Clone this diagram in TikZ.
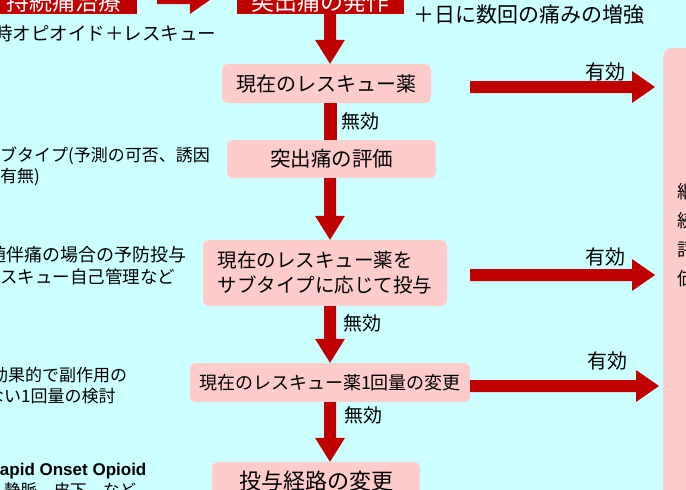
\documentclass[tikz,border=0pt]{standalone}
\usepackage{fontspec}
\setmainfont{Noto Sans CJK JP}
\newfontfamily\latinsans{Liberation Sans}
\usetikzlibrary{calc}

\definecolor{bgcyan}{RGB}{204,255,255}
\definecolor{boxpink}{RGB}{255,204,204}
\definecolor{flowred}{RGB}{192,0,0}

\tikzset{
  stepbox/.style={rectangle, rounded corners=6pt, fill=boxpink, inner sep=0pt, align=left},
  topbox/.style={rectangle, fill=flowred, text=white, inner sep=0pt, minimum height=24pt,
    font=\fontsize{23}{28}\selectfont},
  sidenote/.style={anchor=west, inner sep=0pt, align=left},
  branch/.style={inner sep=0pt, font=\fontsize{19}{22}\selectfont},
  rblock/.style={to path={let \p1=(\tikztostart), \p2=(\tikztotarget) in
    (\x1,\y1+6pt) -- (\x2-23pt,\y1+6pt) -- (\x2-23pt,\y1+16pt) -- (\x2,\y1)
    -- (\x2-23pt,\y1-16pt) -- (\x2-23pt,\y1-6pt) -- (\x1,\y1-6pt) -- cycle}},
  dblock/.style={to path={let \p1=(\tikztostart), \p2=(\tikztotarget) in
    (\x1-6pt,\y1) -- (\x1-6pt,\y2+24pt) -- (\x1-15pt,\y2+24pt) -- (\x1,\y2)
    -- (\x1+15pt,\y2+24pt) -- (\x1+6pt,\y2+24pt) -- (\x1+6pt,\y1) -- cycle}}
}

\begin{document}
\begin{tikzpicture}[x=1pt, y=-1pt]
  \useasboundingbox (0,0) rectangle (686,490);
  \clip (0,0) rectangle (686,490);
  \fill[bgcyan] (0,0) rectangle (686,490);
  \coordinate (spine) at (330,0);

  % Top row
  \node (top1) [topbox, minimum width=147pt] at (63.5,2) {持続痛治療};
  \node (top2) [topbox, minimum width=167pt] at (320.5,2) {突出痛の発作};

  % Flow boxes
  \node (cur) [stepbox, minimum width=209pt, minimum height=39pt,
    font=\fontsize{20}{25}\selectfont] at (326.5,83.5) {現在のレスキュー薬};
  \node (eval) [stepbox, minimum width=209pt, minimum height=38pt,
    font=\fontsize{20.5}{25}\selectfont] at (331.5,159) {突出痛の評価};
  \node (subtype) [stepbox, minimum width=244pt, minimum height=66pt,
    font=\fontsize{19.5}{25}\selectfont] at (325,273) {現在のレスキュー薬を\\サブタイプに応じて投与};
  \node (dose) [stepbox, minimum width=280pt, minimum height=39pt,
    font=\fontsize{18}{22}\selectfont] at (330,382.5) {現在のレスキュー薬1回量の変更};
  \node (route) [stepbox, minimum width=208pt, minimum height=38pt,
    font=\fontsize{22}{26}\selectfont] at (316,481) {投与経路の変更};
  \node (keep) [stepbox, rounded corners=8pt, anchor=north west,
    minimum width=100pt, minimum height=500pt] at (663,48) {};
  \node (keeptext) [sidenote, font=\fontsize{18}{29}\selectfont] at (677,235.5) {継\\続\\評\\価};

  % Side notes
  \node (plus) [sidenote, font=\fontsize{21}{25}\selectfont] at (413,15) {＋日に数回の痛みの増強};
  \node (basal) [sidenote, font=\fontsize{18.5}{22}\selectfont] at (-6,33) {時オピオイド＋レスキュー};
  \node (subnote) [sidenote, font=\fontsize{17}{21}\selectfont] at (0,166.5) {ブタイプ(予測の可否、誘因\\有無)};
  \node (prevent) [sidenote, font=\fontsize{18}{22}\selectfont] at (-12,255) {随伴痛の場合の予防投与};
  \node (selfcare) [sidenote, font=\fontsize{17.5}{22}\selectfont] at (0,277) {スキュー自己管理など};
  \node (effect) [sidenote, font=\fontsize{17}{21}\selectfont] at (-9,375) {効果的で副作用の};
  \node (amount) [sidenote, font=\fontsize{17}{21}\selectfont] at (-13,396) {ない1回量の検討};
  \node (roo) [sidenote, font=\latinsans\bfseries\fontsize{17}{20}\selectfont] at (-12.5,471) {Rapid Onset Opioid};
  \node (routes) [sidenote, font=\fontsize{16.5}{20}\selectfont] at (4,490) {静脈、皮下、など};

  % Branch labels
  \node (no1) [branch] at (360,121) {無効};
  \node (no2) [branch] at (362,323) {無効};
  \node (no3) [branch] at (363,415) {無効};
  \node (yes1) [branch, font=\fontsize{20}{22}\selectfont] at (605,71.5) {有効};
  \node (yes2) [branch, font=\fontsize{20}{22}\selectfont] at (605,257) {有効};
  \node (yes3) [branch, font=\fontsize{20}{22}\selectfont] at (607,361) {有効};

  % Arrows
  \fill[flowred] ([shift={(20,-4)}]top1.east) to[rblock] ([xshift=-24pt]top2.west);
  \fill[flowred] (top2.south -| spine) to[dblock] (cur.north -| spine);
  \draw[flowred, line width=13pt] (cur.south -| spine) -- (eval.north -| spine);
  \fill[flowred] (eval.south -| spine) to[dblock] (subtype.north -| spine);
  \fill[flowred] (subtype.south -| spine) to[dblock] (dose.north -| spine);
  \fill[flowred] (dose.south -| spine) to[dblock] (route.north -| spine);
  \fill[flowred] ([shift={(39,3.5)}]cur.east) to[rblock] ([xshift=-8pt]keep.west);
  \fill[flowred] ([shift={(23,2)}]subtype.east) to[rblock] ([xshift=-8pt]keep.west);
  \fill[flowred] ([shift={(0,3.5)}]dose.east) to[rblock] ([xshift=-4pt]keep.west);
\end{tikzpicture}
\end{document}
